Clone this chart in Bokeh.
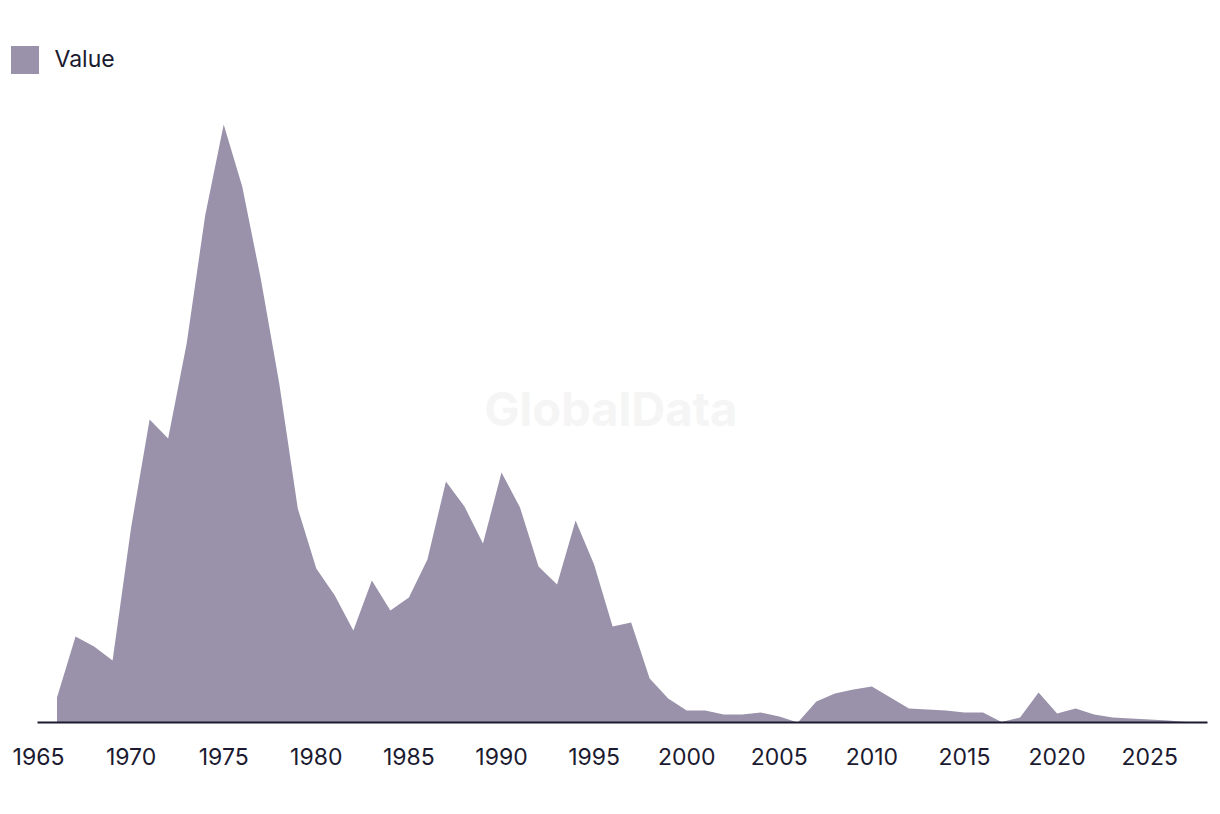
from bokeh.plotting import figure
from bokeh.models import Range1d, FixedTicker, Legend, LegendItem, Label, ColumnDataSource
from bokeh.embed import file_html
from bokeh.resources import INLINE

years = list(range(1966, 2028))
values = [25, 86, 76, 62, 195, 303, 284, 379, 507, 598,
          536, 444, 339, 214, 154, 127, 92, 142, 112, 125,
          163, 241, 216, 179, 250, 215, 156, 138, 202, 158,
          96, 100, 44, 24, 12, 12, 8, 8, 10, 6,
          0, 21, 29, 33, 36, 25, 14, 13, 12, 10,
          10, 0.5, 5, 30, 9, 14, 8, 5, 4, 3,
          2, 0.5]
tick_years = list(range(1965, 2030, 5))
series_name = "Value"

FILL = "#9a92aa"
DARK = "#1b1a30"
PX_PER_YEAR = 18.52

src = ColumnDataSource(dict(x=years, y=values))

x_start = 1965 - 38 / PX_PER_YEAR
x_end = 1965 + (1207 - 38) / PX_PER_YEAR

p = figure(width=1220, height=814, output_backend="svg", toolbar_location=None,
           x_range=Range1d(x_start, x_end), y_range=Range1d(0, 722),
           min_border_left=0, min_border_right=13, min_border_top=0,
           min_border_bottom=92)
p.yaxis.visible = False
p.grid.visible = False
p.outline_line_color = None
p.background_fill_color = "white"
p.border_fill_color = "white"

wm = Label(x=1995.9, y=314, text="GlobalData", text_align="center",
           text_baseline="middle", text_font="Inter", text_font_style="bold",
           text_font_size="47px", text_color="#f5f5f5", level="underlay")
p.add_layout(wm)

r = p.varea(x="x", y1=0, y2="y", source=src, fill_color=FILL, fill_alpha=1.0)

ax = p.xaxis[0]
ax.bounds = (1965 - 1 / PX_PER_YEAR, x_end)
ax.ticker = FixedTicker(ticks=tick_years)
ax.major_tick_line_color = None
ax.minor_tick_line_color = None
ax.axis_line_color = DARK
ax.axis_line_width = 2
ax.major_label_text_font = "Inter"
ax.major_label_text_font_size = "23px"
ax.major_label_text_color = DARK
ax.major_label_standoff = 19

legend = Legend(items=[LegendItem(label=series_name, renderers=[r])],
                location=(6.5, 722 - 76.5), orientation="horizontal",
                glyph_width=35, glyph_height=35, label_standoff=13,
                padding=0, margin=0, spacing=0,
                border_line_color=None, background_fill_alpha=0,
                label_text_font="Inter", label_text_font_size="23px",
                label_text_color=DARK)
p.add_layout(legend)

open("out.html", "w").write(file_html(p, INLINE))
